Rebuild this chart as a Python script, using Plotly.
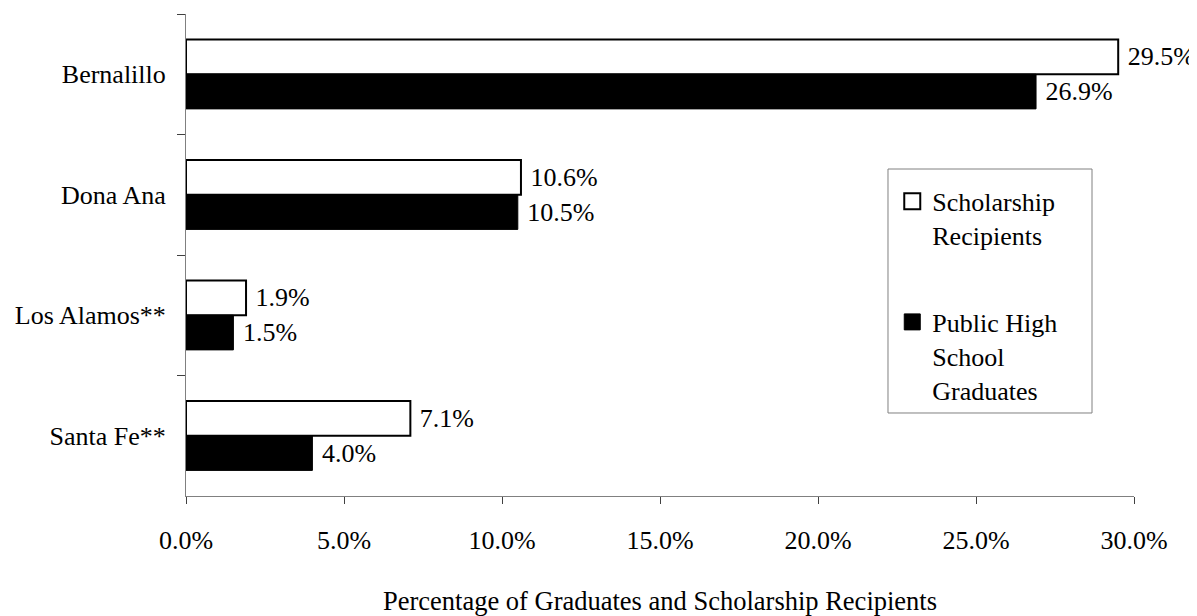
import plotly.graph_objects as go

counties = ["Bernalillo", "Dona Ana", "Los Alamos**", "Santa Fe**"]
scholarship = [29.5, 10.6, 1.9, 7.1]
graduates = [26.9, 10.5, 1.5, 4.0]
tick_vals = [0, 5, 10, 15, 20, 25, 30]
tick_text = ["0.0%", "5.0%", "10.0%", "15.0%", "20.0%", "25.0%", "30.0%"]
series_names = ["Scholarship<br>Recipients", "Public High<br>School<br>Graduates"]

FONT = "Liberation Serif, Times New Roman, serif"

fig = go.Figure()
fig.add_trace(go.Bar(
    y=counties, x=scholarship, orientation="h",
    name=series_names[0], legendgroup="a", showlegend=False,
    marker=dict(color="white", line=dict(color="black", width=2)),
    texttemplate=" %{x:.1f}%", textposition="outside", constraintext="none",
    textfont=dict(family=FONT, size=26, color="black"), cliponaxis=False,
))
fig.add_trace(go.Bar(
    y=counties, x=graduates, orientation="h",
    name=series_names[1], legendgroup="b", showlegend=False,
    marker=dict(color="black", line=dict(color="black", width=1)),
    texttemplate=" %{x:.1f}%", textposition="outside", constraintext="none",
    textfont=dict(family=FONT, size=26, color="black"), cliponaxis=False,
))
# legend entries with larger square swatches
fig.add_trace(go.Scatter(
    x=[None], y=[None], mode="markers", name=series_names[0], legendgroup="a",
    marker=dict(symbol="square", size=16, color="white", line=dict(color="black", width=2)),
))
fig.add_trace(go.Scatter(
    x=[None], y=[None], mode="markers", name=series_names[1], legendgroup="b",
    marker=dict(symbol="square", size=16, color="black", line=dict(color="black", width=1)),
))

fig.update_layout(
    width=1189, height=608,
    margin=dict(l=178, r=63, t=6, b=120),
    paper_bgcolor="white", plot_bgcolor="white",
    font=dict(family=FONT, size=26, color="black"),
    barmode="group", bargap=0.425, bargroupgap=0,
    showlegend=True,
    legend=dict(
        x=0.745, y=0.660, xanchor="left", yanchor="top",
        borderwidth=0, bgcolor="rgba(0,0,0,0)",
        traceorder="grouped", tracegroupgap=50, valign="top",
        itemsizing="trace",
        font=dict(family=FONT, size=26, color="black"),
    ),
    shapes=[dict(type="rect", xref="paper", yref="paper",
                 x0=0.7405, x1=0.9557, y0=0.1722, y1=0.6784,
                 line=dict(color="#808080", width=1), fillcolor="rgba(0,0,0,0)",
                 layer="below")],
    xaxis=dict(
        range=[0, 30], tickvals=tick_vals, ticktext=tick_text,
        showgrid=False, zeroline=False, showline=True, linecolor="#808080",
        ticks="outside", ticklen=7, tickcolor="#404040",
        ticklabelstandoff=14,
        title=dict(text="Percentage of Graduates and Scholarship Recipients", standoff=45,
                   font=dict(family=FONT, size=26.5)),
        automargin=False,
    ),
    yaxis=dict(
        categoryorder="array", categoryarray=counties, autorange="reversed",
        showgrid=False, zeroline=False, showline=True, linecolor="#808080",
        ticks="outside", ticklen=8, tickcolor="#404040", tickson="boundaries",
        ticklabelstandoff=14, automargin=False,
    ),
)

fig.write_html("out.html")
